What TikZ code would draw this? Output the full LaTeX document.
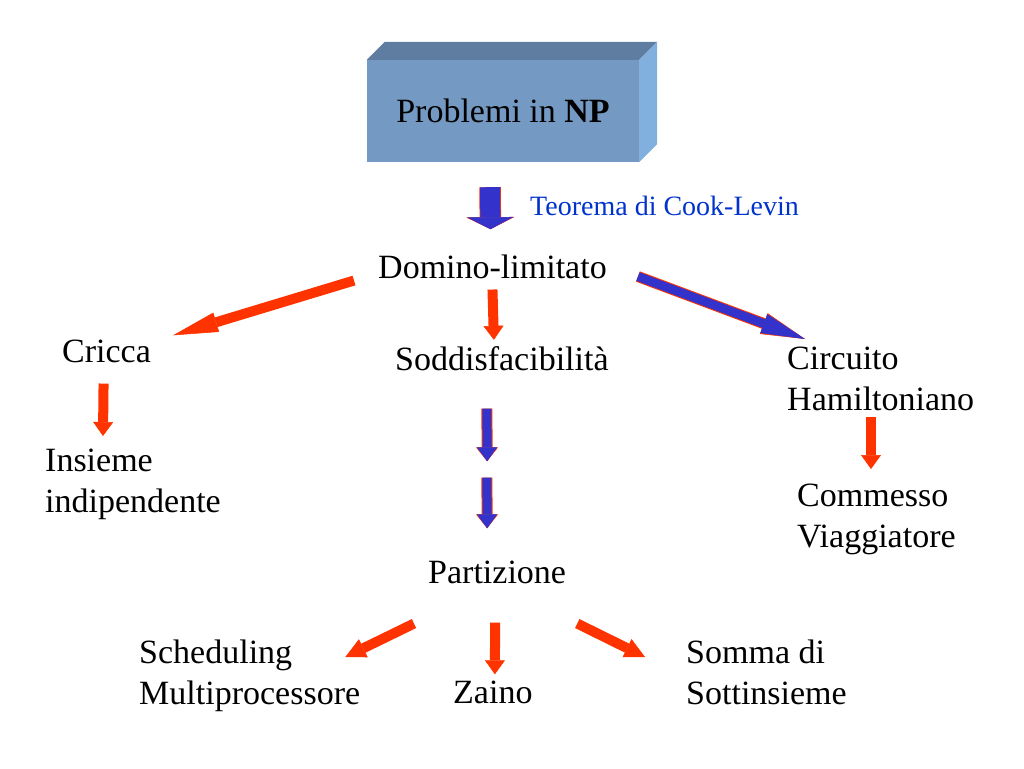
\documentclass[tikz,border=0pt]{standalone}
\usepackage{fontspec}
\setmainfont{Liberation Serif}
\usetikzlibrary{arrows.meta}
\definecolor{arrowred}{RGB}{255,51,0}
\definecolor{arrowblue}{RGB}{51,51,204}
\definecolor{cookblue}{RGB}{0,51,204}
\definecolor{boxfront}{RGB}{116,154,196}
\definecolor{boxtop}{RGB}{94,125,160}
\definecolor{boxside}{RGB}{130,176,222}
\tikzset{
  problem/.style={inner sep=0pt, align=left, font=\fontsize{34}{41}\selectfont},
  arrowbody/.style n args={3}{line width=#1, -{Triangle[width=#2, length=#3, line width=0.5pt]}},
  redarrow/.style={arrowred, arrowbody={10pt}{20pt}{#1}},
  redarrow/.default=14pt,
  bluearrow/.style={arrowblue, preaction={draw=arrowred, arrowbody={11pt}{22pt}{#1}}, arrowbody={9pt}{20pt}{#1}},
  bluearrow/.default=14pt,
}
\begin{document}
\begin{tikzpicture}[x=1pt, y=-1pt]
        \useasboundingbox (0,0) rectangle (1024,768);
        % NP box
        \node[problem, fill=boxfront, minimum width=272pt, minimum height=102pt] (np) at (503,111) {Problemi in \textbf{NP}};
        \fill[boxtop] (np.north west) -- ++(18,-18) -- ([shift={(18,-18)}]np.north east) -- (np.north east) -- cycle;
        \fill[boxside] (np.north east) -- ++(18,-18) -- ([shift={(18,-18)}]np.south east) -- (np.south east) -- cycle;
        \node[anchor=base west, inner sep=0pt, text=cookblue, font=\fontsize{28}{34}\selectfont] (cook) at (530,215) {Teorema di Cook-Levin};
        % problems
        \node[problem, anchor=base west] (domino) at (378,278) {Domino-limitato};
        \node[problem, anchor=base west] (cricca) at (62,362) {Cricca};
        \node[problem, anchor=base west] (sodd) at (395,370) {Soddisfacibilità};
        \node[problem, anchor=north west] (circuito) at (787,347) {Circuito\\Hamiltoniano};
        \node[problem, anchor=north west] (insieme) at (45,449) {Insieme\\indipendente};
        \node[problem, anchor=north west] (commesso) at (797,484) {Commesso\\Viaggiatore};
        \node[problem, anchor=base west] (partizione) at (428,583) {Partizione};
        \node[problem, anchor=north west] (scheduling) at (139,640) {Scheduling\\Multiprocessore};
        \node[problem, anchor=base west] (zaino) at (453,703) {Zaino};
        \node[problem, anchor=north west] (somma) at (686,640) {Somma di\\Sottinsieme};
        % reductions
        \draw[arrowblue, preaction={draw=arrowred, arrowbody={21.5pt}{48pt}{12pt}}, arrowbody={20pt}{46pt}{12pt}] ([shift={(-13,25)}]np.south) -- ([shift={(-2,-25)}]domino.north);
        \draw[redarrow=45pt] ([shift={(-24,2)}]domino.south west) -- ([shift={(22,-4)}]cricca.north east);
        \draw[redarrow] ([shift={(0,11)}]domino.south) -- ([shift={(-8,-6)}]sodd.north);
        \draw[bluearrow=44pt] ([shift={(31,-2)}]domino.south east) -- ([shift={(18,-8)}]circuito.north west);
        \draw[redarrow] ([shift={(-3,21)}]cricca.south) -- ([shift={(58,-13)}]insieme.north west);
        \draw[redarrow] ([shift={(84,70)}]circuito.north west) -- ([shift={(74,-15)}]commesso.north west);
        \draw[bluearrow] ([shift={(-15,38)}]sodd.south) -- ([shift={(-10,-99)}]partizione.north);
        \draw[bluearrow] ([shift={(-15,107)}]sodd.south) -- ([shift={(-10,-32)}]partizione.north);
        \draw[redarrow=20pt] ([shift={(-14,40)}]partizione.south west) -- ([shift={(-15,17)}]scheduling.north east);
        \draw[redarrow] ([shift={(-2,39)}]partizione.south) -- ([shift={(2,-6)}]zaino.north);
        \draw[redarrow=20pt] ([shift={(11,40)}]partizione.south east) -- ([shift={(-41,17)}]somma.north west);
\end{tikzpicture}
\end{document}
